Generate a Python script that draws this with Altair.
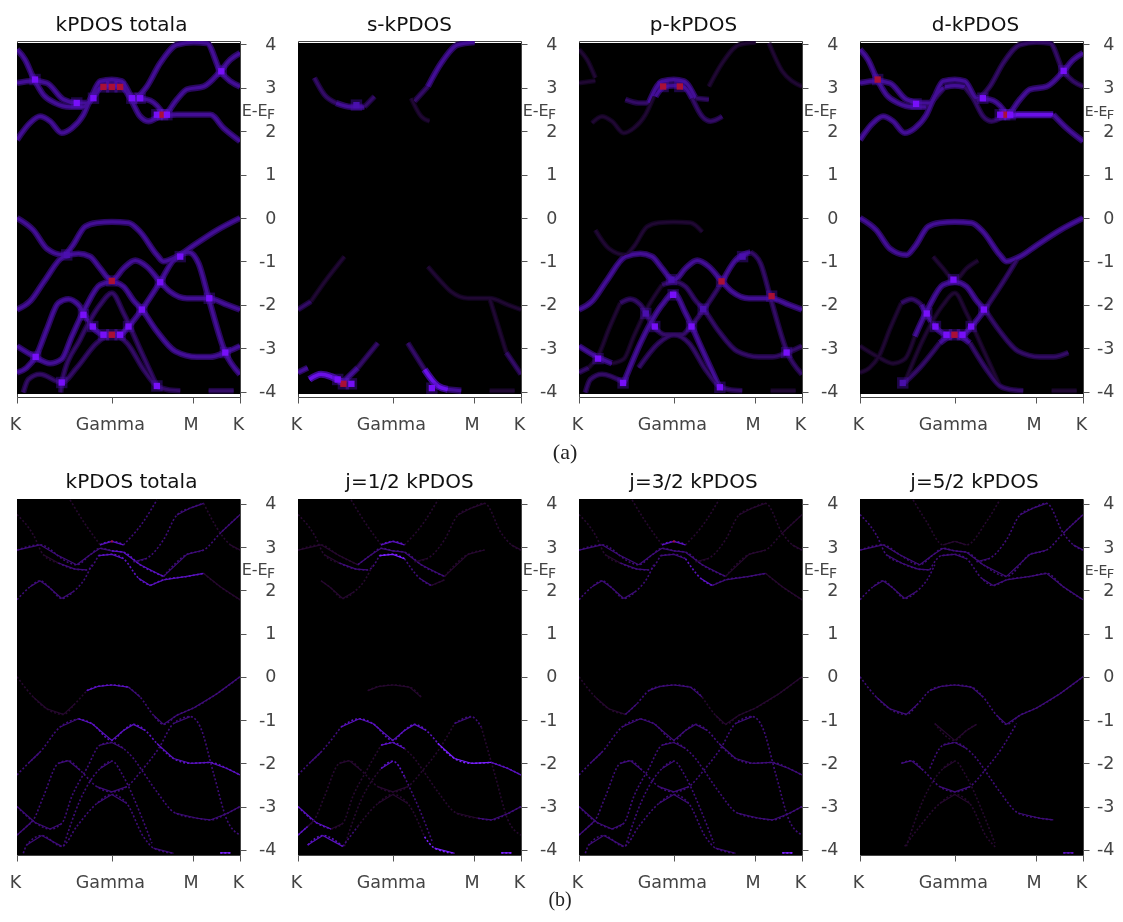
import altair as alt
import pandas as pd

# ---- k-path ticks and energy ticks
K_TICKS = [0, 284, 526, 668]
K_LABELS = ["K", "Gamma", "M", "K"]
E_TICKS = [-4, -3, -2, -1, 0, 1, 2, 3, 4]

# ---- coarse bands (row a)
coarse = {
 "a": [(0,3.88),(24,3.65),(49,3.23),(79,2.84),(114,2.65),(159,2.56),(199,2.56),(229,2.8),(254,3.02),(284,3.05),(314,3.02),(339,2.76),(369,2.34),(394,2.23),(429,2.34),(479,2.38),(579,2.38),(619,2.07),(668,1.77)],
 "b": [(0,3.11),(49,3.16),(89,3.11),(139,2.73),(179,2.65),(209,2.65),(249,3.15),(284,3.19),(314,3.15),(349,2.76),(389,2.73),(429,2.5),(439,2.38),(479,2.73),(509,2.96),(559,3.03),(609,3.38),(639,3.65),(668,3.8)],
 "c": [(0,1.8),(39,2.19),(69,2.34),(99,2.23),(134,1.96),(164,2.07),(199,2.38),(224,2.8),(249,3.0)],
 "d": [(349,2.69),(389,3.03),(429,3.57),(479,3.99),(529,4.05),(569,4.03),(609,3.38),(639,3.15),(668,3.03)],
 "e": [(0,0),(49,-0.28),(89,-0.7),(139,-0.85),(164,-0.66),(204,-0.2),(239,-0.11),(284,-0.09),(334,-0.11),(369,-0.32),(419,-0.85),(439,-1.0),(479,-0.89),(529,-0.63),(599,-0.28),(668,0)],
 "f": [(0,-2.11),(39,-1.92),(84,-1.43),(139,-0.89),(184,-0.82),(219,-0.89),(249,-1.16),(284,-1.44),(319,-1.16),(354,-0.98),(389,-1.12),(429,-1.47),(459,-1.7),(509,-1.85),(574,-1.85),(629,-2),(668,-2.11)],
 "i": [(0,-2.95),(54,-3.2),(99,-3.35),(134,-3.25),(164,-2.73),(204,-2.08),(249,-1.54),(284,-1.47),(319,-1.58),(349,-1.9),(374,-2.11),(419,-2.61),(474,-3.07),(539,-3.2),(579,-3.2),(624,-3.1),(668,-2.95)],
 "k": [(0,-3.56),(29,-3.45),(59,-3.15),(89,-2.57),(124,-1.96),(154,-1.87),(184,-2),(224,-2.5),(259,-2.69),(284,-2.69),(309,-2.69),(334,-2.5),(374,-2.11),(429,-1.47),(469,-0.97),(514,-0.79),(544,-1.05),(574,-1.85),(624,-3.1),(668,-3.6)],
 "l": [(131,-4.02),(134,-3.79),(189,-2.8),(249,-2),(284,-1.73),(319,-2.19),(369,-3.03),(419,-3.87)],
 "m": [(19,-4.02),(34,-3.72),(69,-3.6),(134,-3.79),(179,-3.45),(239,-2.88),(284,-2.69),(329,-2.88),(379,-3.49),(419,-3.87),(449,-3.95),(489,-3.98)],
 "n": [(574,-3.98),(649,-3.98)],
}

# ---- fine bands (row b)
fine = {
 "A": [(0,3.75),(49,3.28),(79,2.82),(124,2.63),(174,2.49),(209,2.47),(244,2.8),(284,2.83),(319,2.73),(364,2.28),(399,2.11),(439,2.24),(509,2.32),(559,2.39),(609,2.08),(668,1.78)],
 "B": [(0,2.93),(69,3.05),(119,2.82),(179,2.59),(219,2.82),(249,2.97),(284,2.91),(319,2.88),(369,2.59),(439,2.32),(509,2.83),(559,2.93),(609,3.32),(668,3.75)],
 "C": [(0,1.78),(39,2.08),(69,2.22),(99,2.05),(134,1.81),(169,1.97),(204,2.28),(224,2.59)],
 "D": [(159,4.09),(199,3.59),(249,3.05),(284,3.13),(319,3.05),(379,3.59),(419,4.09)],
 "E": [(349,2.66),(389,2.74),(439,3.17),(479,3.74),(519,3.9),(559,4.01),(609,3.32),(639,3.05),(668,2.93)],
 "e": [(0,0),(49,-0.47),(89,-0.74),(139,-0.87),(174,-0.62),(209,-0.32),(244,-0.22),(284,-0.19),(334,-0.24),(369,-0.47),(409,-0.89),(439,-1.1),(479,-0.89),(529,-0.72),(599,-0.39),(668,0)],
 "f": [(0,-2.27),(34,-2),(69,-1.74),(129,-1.16),(184,-0.97),(224,-1.08),(284,-1.47),(319,-1.24),(349,-1.1),(384,-1.24),(419,-1.54),(469,-1.89),(519,-2),(579,-1.98),(629,-2.12),(668,-2.27)],
 "i": [(0,-3),(54,-3.37),(99,-3.52),(134,-3.39),(164,-2.77),(209,-2.12),(249,-1.58),(284,-1.52),(319,-1.66),(349,-1.89),(374,-2.16),(419,-2.66),(474,-3.15),(539,-3.27),(579,-3.31),(629,-3.16),(668,-3)],
 "k": [(0,-3.66),(29,-3.46),(49,-3.31),(79,-2.77),(124,-2),(154,-1.94),(189,-2.16),(239,-2.54),(284,-2.66),(329,-2.54),(374,-2.16),(424,-1.66),(469,-1.08),(519,-0.92),(549,-1.16),(589,-2.24),(629,-3.31),(668,-3.66)],
 "l": [(139,-3.92),(189,-2.85),(249,-2.12),(284,-1.95),(319,-2.31),(369,-3.16),(404,-3.85)],
 "m": [(19,-4.08),(29,-3.89),(74,-3.67),(134,-3.92),(179,-3.46),(239,-2.93),(284,-2.72),(329,-2.93),(379,-3.7),(409,-3.96),(469,-4.08)],
 "n": [(609,-4.07),(639,-4.07)],
}

# ---- which stretch of which band each panel shows, and how strongly: (band, from k, to k, level)
seg_total_a = [("a",0,668,3),("b",0,668,3),("c",0,249,3),("d",349,668,3),("e",0,668,3),("f",0,668,3),
               ("i",0,668,3),("k",0,668,3),("l",131,419,2),("m",19,489,2),("n",574,649,2)]
seg_s = [("a",49,114,2),("a",114,199,3),("a",199,229,2),("d",349,389,2),("d",389,529,3),("a",339,394,1),
         ("f",0,39,2),("f",39,139,1),("f",389,668,1),("k",574,624,1),("k",624,668,2),("k",0,29,3),
         ("m",34,134,4),("m",134,179,3),("m",179,239,2),("m",329,379,2),("m",379,449,4),("m",449,489,3),("n",574,649,1)]
seg_p = [("a",0,49,1),("b",0,49,1),("b",139,209,2),("b",209,349,3),("b",349,389,2),("a",229,339,3),("a",339,429,2),
         ("c",39,224,1),("d",389,529,1),("d",569,668,1),("e",49,369,1),("f",0,668,3),
         ("i",0,99,3),("i",99,249,1),("i",249,668,2),("k",0,29,2),("k",29,124,1),("k",124,429,2),("k",429,514,3),("k",514,668,2),
         ("l",134,419,3),("m",19,134,2),("m",179,489,2),("n",574,649,1)]
seg_d = [("a",0,199,3),("a",199,254,2),("a",254,314,3),("a",314,429,2),("a",429,579,4),("a",579,668,3),
         ("b",0,668,3),("c",0,249,3),("d",349,668,2),("e",0,668,3),("f",219,354,1),
         ("i",164,374,3),("i",374,624,2),("i",0,164,1),("k",0,124,1),("k",124,184,2),("k",184,374,3),("k",374,469,2),
         ("l",134,419,1),("m",134,239,2),("m",239,329,3),("m",329,489,2),("n",574,649,1)]

seg_total_b = [("A",0,124,1),("A",124,244,2),("A",244,399,3),("A",399,559,3),("A",559,668,1),
               ("B",0,119,2),("B",119,284,2),("B",284,439,3),("B",439,668,2),("C",0,224,2),("D",159,249,1),("D",249,319,3),("D",319,419,2),
               ("E",349,559,2),("E",559,668,1),("e",0,209,1),("e",209,334,3),("e",334,668,2),
               ("f",0,184,2),("f",184,668,3),("i",0,668,2),("k",0,668,2),("l",139,404,2),("m",19,469,2),("n",609,639,4)]
seg_j12 = [("A",0,124,1),("A",124,244,2),("A",244,319,4),("A",319,399,2),("A",399,439,1),("B",0,179,1),("B",179,284,2),("B",284,439,2),("B",439,559,1),
           ("C",69,224,1),("D",159,249,1),("D",249,319,3),("D",319,419,1),
           ("E",349,668,1),("e",209,369,1),("f",0,129,2),("f",129,419,3),("f",419,579,4),("f",579,668,3),
           ("i",0,99,3),("i",99,249,1),("i",249,319,3),("i",319,539,1),("i",539,668,2),("k",0,29,3),("k",29,469,1),("k",469,549,2),("k",549,668,1),
           ("l",139,249,1),("l",249,319,3),("l",319,404,2),("m",29,134,3),("m",134,179,2),("m",179,379,1),("m",379,469,4),("n",609,639,4)]
seg_j32 = [("A",0,124,1),("A",124,244,2),("A",244,319,2),("A",319,399,3),("A",399,559,2),("A",559,668,1),("B",0,119,2),("B",119,284,2),("B",284,439,2),("B",439,668,1),
           ("C",0,224,2),("D",159,249,1),("D",249,319,3),("D",319,419,1),
           ("E",349,668,1),("e",0,139,1),("e",139,369,2),("e",369,668,1),("f",0,184,2),("f",184,668,2),
           ("i",0,99,2),("i",99,668,2),("k",0,668,2),
           ("l",139,404,2),("m",19,469,2),("n",609,639,4)]
seg_j52 = [("A",0,209,2),("A",209,668,2),("B",0,668,2),("C",0,224,2),("D",159,419,1),("E",349,668,2),("e",0,668,2),("f",224,349,1),
           ("i",209,579,2),("k",124,374,2),("k",374,469,2),("l",139,404,1),("m",134,409,1),("n",609,639,3)]

# ---- bright spots per panel: (k, E, level)
hot_total_a = [(54,3.19,4),(179,2.65,4),(229,2.76,4),(259,3.02,5),(284,3.02,5),(309,3.02,5),(344,2.76,4),(369,2.76,4),(419,2.38,4),(436,2.38,5),(449,2.38,4),(612,3.38,4),
               (149,-0.85,3),(284,-1.45,5),(429,-1.48,4),(489,-0.89,4),(199,-2.23,4),(227,-2.5,4),(259,-2.69,4),(284,-2.69,5),(309,-2.69,4),(334,-2.5,4),(374,-2.11,4),(576,-1.85,4),(56,-3.2,4),(624,-3.1,4),(134,-3.79,4),(419,-3.87,4)]
hot_s = [(136,-3.82,5),(119,-3.72,4),(401,-3.92,4),(160,-3.82,4),(175,2.6,3)]
hot_p = [(252,3.03,5),(302,3.03,5),(427,-1.46,5),(577,-1.8,5),(622,-3.1,4),(57,-3.24,4),(132,-3.8,4),(422,-3.9,4),(282,-1.77,4),(227,-2.5,4),(337,-2.5,4),(200,-2.2,3),(372,-2.1,3),(277,-1.42,3),(490,-0.89,3)]
hot_d = [(53,3.19,5),(168,2.63,4),(368,2.76,4),(433,2.38,5),(420,2.38,4),(450,2.38,4),(610,3.39,4),(280,-1.42,4),(200,-2.2,4),(371,-2.11,4),(226,-2.5,4),(333,-2.5,4),(259,-2.69,4),(283,-2.69,5),(307,-2.69,4),(128,-3.8,3)]
hot_total_b = [(284,3.13,5)]
hot_j32 = [(284,3.13,5)]

TOP_TITLES = ["kPDOS totala", "s-kPDOS", "p-kPDOS", "d-kPDOS"]
BOT_TITLES = ["kPDOS totala", "j=1/2 kPDOS", "j=3/2 kPDOS", "j=5/2 kPDOS"]
TOP_DX = [-7, 0, 3, 4]
BOT_DX = [3, 0, 3, 3]

LEVELS = [1, 2, 3, 4]
COLOR_A = ["#200833", "#330b66", "#430e96", "#6a10e8"]
GLOW_A = ["#120420", "#1e0640", "#2a0860", "#3d0a90"]
COLOR_B = ["#26082f", "#3e0c78", "#5a12c0", "#7a20ff"]
HOT_LEVELS = [3, 4, 5]
HOT_COLORS = ["#4b10b0", "#7a10ff", "#b01030"]
FLAT_SLOPE = 0.0075


def rows(bands, segs):
    out = []
    for n, (b, k0, k1, lev) in enumerate(segs):
        for k, e in bands[b]:
            if k0 <= k <= k1:
                out.append({"k": k, "E": e, "seg": n, "level": lev})
    return pd.DataFrame(out)


def flat_rows(bands, segs):
    """The gently sloping stretches, which the reference draws unbroken."""
    out = []
    sub = 0
    for lev_seg in segs:
        b, k0, k1, lev = lev_seg
        pts = [p for p in bands[b] if k0 <= p[0] <= k1]
        for p, q in zip(pts, pts[1:]):
            sub += 1
            if abs(q[1] - p[1]) / (q[0] - p[0]) < FLAT_SLOPE:
                out.append({"k": p[0], "E": p[1], "seg": sub, "level": lev})
                out.append({"k": q[0], "E": q[1], "seg": sub, "level": lev})
    return pd.DataFrame(out)


def panel(title, dx, bands, segs, hots, dom, black, fine_row, caption=None, cap=(800, -5.6, 22), t_off=0, last=False):
    xs = alt.Scale(domain=[0, 668], nice=False, zero=False)
    ys = alt.Scale(domain=dom, nice=False, zero=False)
    lab = "".join(f"datum.value=={v}?'{t}':" for v, t in zip(K_TICKS[1:3], K_LABELS[1:3])) + "'K'"
    xaxis = alt.Axis(values=K_TICKS, labelExpr=lab, title=None, grid=False, domain=False,
                     tickColor="#555", tickSize=6, labelFont="DejaVu Sans", labelFontSize=17.5,
                     labelColor="#444", labelPadding=12, labelOffset=-2, labelFlush=False, labelOverlap=False)
    yaxis = alt.Axis(values=E_TICKS, labelExpr="''+datum.value", orient="right", title=None, grid=False, domain=False,
                     tickColor="#555", tickSize=6, labelFont="DejaVu Sans", labelFontSize=17.5,
                     labelColor="#444", labelAlign="right", labelPadding=25 if last else 30, labelOverlap=False)
    X = alt.X("k:Q", scale=xs, axis=xaxis)
    Y = alt.Y("E:Q", scale=ys, axis=yaxis)
    bg = pd.DataFrame({"k": [0], "x1": [668], "E": [black[0]], "y1": [black[1]]})
    layers = [alt.Chart(bg).mark_rect(color="black").encode(x=X, x2="x1:Q", y=Y, y2="y1:Q")]
    data = rows(bands, segs)
    enc = dict(x=X, y=Y, detail="seg:N")
    if fine_row:
        layers.append(alt.Chart(data).mark_line(clip=True, blend="screen", interpolate="monotone",
                                                strokeDash=[2, 2]).encode(
            color=alt.Color("level:O", scale=alt.Scale(domain=LEVELS, range=COLOR_B), legend=None),
            strokeWidth=alt.StrokeWidth("level:O", scale=alt.Scale(domain=LEVELS, range=[1.6, 1.6, 1.6, 1.8]), legend=None),
            **enc))
        layers.append(alt.Chart(flat_rows(bands, segs)).mark_line(clip=True, blend="screen").encode(
            color=alt.Color("level:O", scale=alt.Scale(domain=LEVELS, range=COLOR_B), legend=None),
            strokeWidth=alt.StrokeWidth("level:O", scale=alt.Scale(domain=LEVELS, range=[1.2, 1.2, 1.3, 1.5]), legend=None),
            **enc))
    else:
        layers.append(alt.Chart(data).mark_line(clip=True, blend="screen", interpolate="monotone").encode(
            color=alt.Color("level:O", scale=alt.Scale(domain=LEVELS, range=GLOW_A), legend=None),
            strokeWidth=alt.StrokeWidth("level:O", scale=alt.Scale(domain=LEVELS, range=[5, 7, 11, 12]), legend=None),
            **enc))
        layers.append(alt.Chart(data).mark_line(clip=True, blend="screen", interpolate="monotone").encode(
            color=alt.Color("level:O", scale=alt.Scale(domain=LEVELS, range=COLOR_A), legend=None),
            strokeWidth=alt.StrokeWidth("level:O", scale=alt.Scale(domain=LEVELS, range=[2.5, 3.5, 6.5, 7.5]), legend=None),
            **enc))
    if hots:
        hd = pd.DataFrame(hots, columns=["k", "E", "level"])
        if not fine_row:
            layers.append(alt.Chart(hd).mark_square(opacity=0.4, clip=True, color="#4a0fb0", size=130, blend="screen").encode(x=X, y=Y))
        layers.append(alt.Chart(hd).mark_square(opacity=0.95, clip=True).encode(
            x=X, y=Y,
            color=alt.Color("level:O", scale=alt.Scale(domain=HOT_LEVELS, range=HOT_COLORS), legend=None),
            size=alt.Size("level:O", scale=alt.Scale(domain=HOT_LEVELS, range=[40, 40, 28] if not fine_row else [4, 4, 4]), legend=None)))
    t1 = pd.DataFrame({"k": [673], "E": [2.355], "t": ["E-E"]})
    t2 = pd.DataFrame({"k": [739 if last else 749], "E": [2.28], "t": ["F"]})
    for d, size in ((t1, 14 if last else 16), (t2, 13 if last else 14)):
        layers.append(alt.Chart(d).mark_text(font="DejaVu Sans", fontSize=size, color="#444", align="left", baseline="alphabetic").encode(
            x=X, y=Y, text="t:N"))
    if caption:
        cd = pd.DataFrame({"k": [cap[0]], "E": [cap[1]], "t": [caption]})
        layers.append(alt.Chart(cd).mark_text(font="Liberation Serif", fontSize=cap[2], color="#222", align="center", baseline="alphabetic").encode(
            x=X, y=Y, text="t:N"))
    return alt.layer(*layers).resolve_scale(color="independent", size="independent", strokeWidth="independent").properties(
        width=223, height=356,
        title=alt.TitleParams(title, font="DejaVu Sans", fontSize=20, fontWeight="normal", color="#111", offset=t_off, dx=dx))


DOM_A = [-4.124, 4.078]
DOM_B = [-4.12, 4.11]
BLACK_A = (4.03, -4.055)
BLACK_B = (4.11, -4.12)

top_segs = [seg_total_a, seg_s, seg_p, seg_d]
top_hots = [hot_total_a, hot_s, hot_p, hot_d]
bot_segs = [seg_total_b, seg_j12, seg_j32, seg_j52]
bot_hots = [hot_total_b, [], hot_j32, []]

panels = [panel(TOP_TITLES[i], TOP_DX[i], coarse, top_segs[i], top_hots[i], DOM_A, BLACK_A, False,
                "(a)" if i == 1 else None, (800, -5.55, 22), 0, i == 3) for i in range(4)]
panels += [panel(BOT_TITLES[i], BOT_DX[i], fine, bot_segs[i], bot_hots[i], DOM_B, BLACK_B, True,
                 "(b)" if i == 1 else None, (785, -5.3, 20), 3, i == 3) for i in range(4)]

chart = alt.concat(*panels, columns=4, spacing={"row": 102, "column": 58}, bounds="flush").properties(
    padding={"left": 0, "top": 6, "right": 0, "bottom": 0}, background="white"
).configure_view(stroke="#444", strokeWidth=1)

chart.save("out.html", embed_options={"renderer": "svg", "actions": False})
